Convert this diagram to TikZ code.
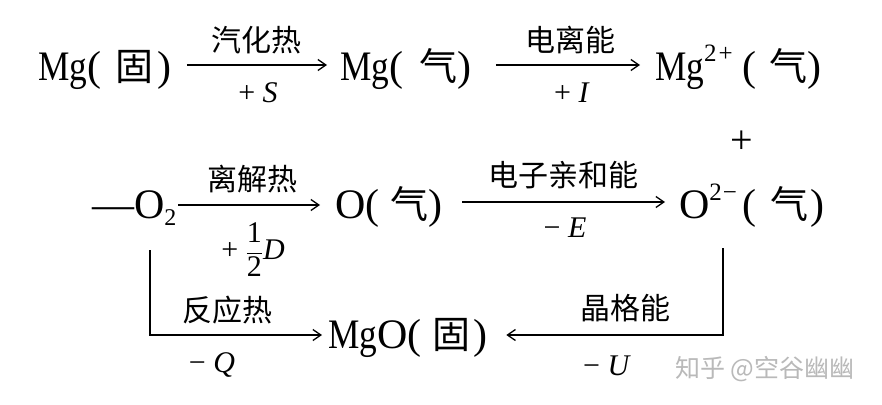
\documentclass[tikz,border=0pt]{standalone}
\usepackage{graphicx}
\usepackage{fontspec}
\setmainfont{Liberation Serif}
\newfontfamily\cjk{Noto Sans CJK SC}
\usetikzlibrary{arrows.meta}
\newcommand{\cjkbig}{\cjk\fontsize{38}{38}\selectfont}
\newcommand{\mgtxt}{\scalebox{0.84}[1]{Mg}}
\newcommand{\supx}[1]{\raisebox{18pt}{\fontsize{25}{25}\selectfont #1}}
\tikzset{
  sp/.style={anchor=base west, inner sep=0pt, outer sep=0pt, text height=30pt, text depth=10pt, font=\fontsize{42}{44}\selectfont},
  lb/.style={inner sep=0pt, font=\fontsize{30}{32}\selectfont},
  cl/.style={inner sep=0pt, font=\cjk\fontsize{30}{32}\selectfont},
  arr/.style={line width=1.3pt, -{Straight Barb[length=8pt,width=11pt]}},
  wm/.style={inner sep=0pt, text=gray!55, font=\cjk\fontsize{25}{27}\selectfont},
}
\begin{document}
\begin{tikzpicture}[x=1pt,y=-1pt]
\fill[white] (0,0) rectangle (882,404);
\useasboundingbox (0,0) rectangle (882,404);
% species
\node[sp] (mgs) at (38,80) {\mgtxt(\hspace{15pt}{\cjkbig 固}\hspace{4pt})};
\node[sp] (mgg) at (340,80) {\mgtxt(\hspace{16pt}{\cjkbig 气})};
\node[sp] (mg2) at (655,80) {\mgtxt\supx{2\hspace{2pt}+}\hspace{10pt}(\hspace{13pt}{\cjkbig 气})};
\node[inner sep=0pt, font=\fontsize{40}{40}\selectfont] (plus) at (742,142) {+};
\node[sp] (o2) at (92,218) {—O\raisebox{-7pt}{\fontsize{24}{24}\selectfont 2}};
\node[sp] (oq) at (335,218) {O(\hspace{11pt}{\cjkbig 气})};
\node[sp] (o2m) at (679,218) {O\supx{2\hspace{1pt}−}\hspace{6pt}(\hspace{14pt}{\cjkbig 气}\hspace{2pt})};
\node[sp] (mgo) at (328,348) {\mgtxt O(\hspace{11pt}{\cjkbig 固}\hspace{3pt})};
% labels
\node[cl] (l1a) at (256,40) {汽化热};
\node[lb] (l1b) at (258,93) {+ \textit{S}};
\node[cl] (l2a) at (570,40) {电离能};
\node[lb] (l2b) at (572,93) {+ \textit{I}};
\node[cl] (l3a) at (252,179) {离解热};
\node[lb] (l3b) at (253,250) {+ $\displaystyle\frac{\hbox{1}}{\hbox{2}}$\textit{D}};
\node[cl] (l4a) at (563,175) {电子亲和能};
\node[lb] (l4b) at (565,228) {− \textit{E}};
\node[cl] (l5a) at (227,310) {反应热};
\node[lb] (l5b) at (212,365) {− \textit{Q}};
\node[cl] (l6a) at (625,308) {晶格能};
\node[lb] (l6b) at (607,366) {− \textit{U}};
\node[wm] (wmk) at (765,369) {知乎 @空谷幽幽};
% corners
\coordinate (c1) at (150,250);
\coordinate (c2) at (723,248);
% connectors
\draw[arr] ([xshift=15pt,yshift=5pt]mgs.east) -- ([xshift=-13pt,yshift=5pt]mgg.west);
\draw[arr] ([xshift=25pt,yshift=5pt]mgg.east) -- ([xshift=-15pt,yshift=5pt]mg2.west);
\draw[arr] ([xshift=2pt,yshift=3pt]o2.east) -- ([xshift=-15pt,yshift=3pt]oq.west);
\draw[arr] ([xshift=20pt,yshift=6pt]oq.east) -- ([xshift=-14pt,yshift=6pt]o2m.west);
\draw[arr] (c1) |- ([xshift=-6pt,yshift=3pt]mgo.west);
\draw[arr] (c2) |- ([xshift=19pt,yshift=3pt]mgo.east);
\end{tikzpicture}
\end{document}
